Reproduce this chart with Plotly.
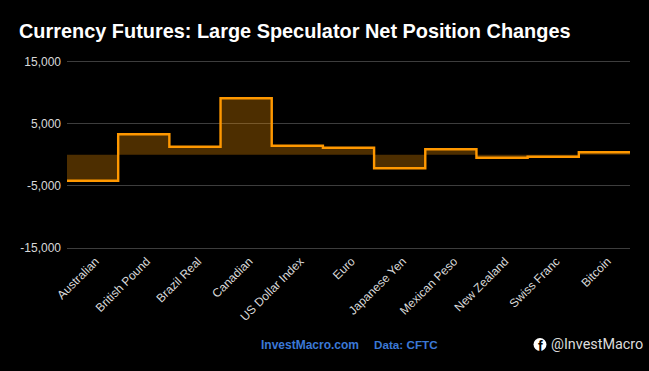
import plotly.graph_objects as go

categories = ["Australian", "British Pound", "Brazil Real", "Canadian", "US Dollar Index", "Euro",
              "Japanese Yen", "Mexican Peso", "New Zealand", "Swiss Franc", "Bitcoin"]
net_changes = [-4180, 3300, 1290, 9080, 1450, 1130, -2170, 880, -480, -320, 400]
y_ticks = [-15000, -5000, 5000, 15000]
y_tick_labels = ["-15,000", "-5,000", "5,000", "15,000"]

W, H = 649, 371
L, R, T, B = 67, 630, 59, 251
Y_MIN, Y_MAX = -15480, 15400

x_edges = list(range(len(categories) + 1))
y_steps = net_changes + [net_changes[-1]]
centers = [i + 0.5 for i in range(len(categories))]

fig = go.Figure(go.Scatter(
    x=x_edges, y=y_steps, mode="lines",
    line=dict(color="#ff9800", width=2.4, shape="hv"),
    fill="tozeroy", fillcolor="rgba(255,152,0,0.3)",
    hoverinfo="skip",
))

fig.update_layout(
    width=W, height=H, autosize=False,
    paper_bgcolor="#000000", plot_bgcolor="#000000",
    showlegend=False,
    margin=dict(l=L, r=W - R, t=T, b=H - B, pad=0),
    font=dict(family="Liberation Sans, Arial, sans-serif", color="#d9d9d9", size=12),
    title=dict(text="<b>Currency Futures: Large Speculator Net Position Changes</b>",
               x=19 / W, xanchor="left", xref="container", y=1 - 31 / H, yanchor="middle",
               font=dict(size=19.9, color="#ffffff", family="Liberation Sans, Arial, sans-serif")),
    xaxis=dict(range=[0, len(categories)], tickmode="array", tickvals=centers, ticktext=categories,
               tickangle=-45, showgrid=False, zeroline=False, showline=False, ticks="",
               ticklabelshift=3,
               tickfont=dict(size=12, color="#d9d9d9")),
    yaxis=dict(range=[Y_MIN, Y_MAX], tickmode="array", tickvals=y_ticks, ticktext=y_tick_labels,
               gridcolor="#3d3d3d", gridwidth=1, zeroline=False, showline=False,
               ticks="", ticklen=0, ticklabelstandoff=5, tickfont=dict(size=12, color="#d9d9d9")),
)

def note(text, x, y, size, color, family="Liberation Sans, Arial, sans-serif", anchor="left"):
    fig.add_annotation(text=text, xref="paper", yref="paper",
                       x=(x - L) / (R - L), y=(B - y) / (B - T), xanchor=anchor, yanchor="middle",
                       showarrow=False, borderpad=0, font=dict(size=size, color=color, family=family))

note("<b>InvestMacro.com</b>", 260, 344.5, 12, "#3b78d6")
note("<b>Data: CFTC</b>", 373, 344.5, 11.7, "#3b78d6")
note("@InvestMacro", 550, 344.5, 14.4, "#dcdcdc", family="Roboto, sans-serif")

fig.add_shape(type="circle", xref="paper", yref="paper",
              x0=(533.5 - L) / (R - L), x1=(546.5 - L) / (R - L),
              y0=(B - 351) / (B - T), y1=(B - 338) / (B - T),
              fillcolor="#ffffff", line=dict(width=0), layer="above")
note("<b>f</b>", 540.8, 346, 14, "#000000", anchor="center")

fig.write_html("out.html", config={"displayModeBar": False},
               post_script="document.documentElement.style.background='#000';document.body.style.margin='0';document.body.style.overflow='hidden';")
